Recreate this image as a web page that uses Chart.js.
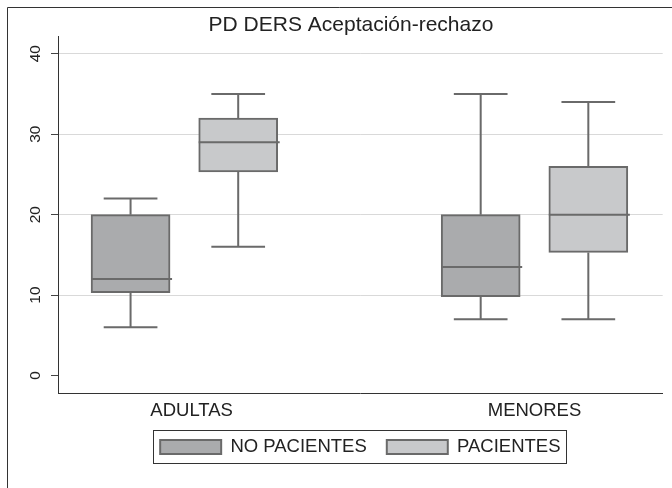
<!DOCTYPE html>
<html>
<head>
<meta charset="utf-8">
<script src="https://cdn.jsdelivr.net/npm/chart.js@4.4.1/dist/chart.umd.min.js"></script>
<style>
  body { margin: 0; background: #fff; }
</style>
</head>
<body>
<canvas id="boxChart" width="672" height="488"></canvas>
<script>
const chartTitle = 'PD DERS Aceptación-rechazo';
const groups = ['ADULTAS', 'MENORES'];
const seriesNames = ['NO PACIENTES', 'PACIENTES'];

// box plot stats per group (ADULTAS, MENORES)
const noPacMin = [6, 7];
const noPacQ1 = [10.3, 9.8];
const noPacMed = [12, 13.5];
const noPacQ3 = [20, 20];
const noPacMax = [22, 35];

const pacMin = [16, 7];
const pacQ1 = [25.3, 15.3];
const pacMed = [29, 20];
const pacQ3 = [32, 26];
const pacMax = [35, 34];

const yTicks = [0, 10, 20, 30, 40];

// layout on a 0..100 horizontal axis
const groupPos = [20.9, 78.8];
const boxOffset = 8.9;
const labelPos = [22.1, 78.8];

const textColor = '#222';
const lineGray = '#6a6a6a';
const fontFamily = '"Liberation Sans", Arial, Helvetica, sans-serif';

function makeSeries(name, sign, q1, q3, lo, med, hi, fill) {
  return {
    label: name,
    data: groups.map((g, i) => ({ x: groupPos[i] + sign * boxOffset, y: [q1[i], q3[i]] })),
    whiskerLow: lo,
    whiskerHigh: hi,
    median: med,
    backgroundColor: fill,
    borderColor: lineGray,
    borderWidth: 2,
    borderSkipped: false,
    grouped: false,
    barThickness: 79
  };
}

const boxExtras = {
  id: 'boxExtras',
  afterDatasetsDraw(chart) {
    const ctx = chart.ctx;
    const yScale = chart.scales.y;
    ctx.save();
    ctx.strokeStyle = lineGray;
    ctx.lineWidth = 2;
    chart.data.datasets.forEach((ds, di) => {
      const meta = chart.getDatasetMeta(di);
      meta.data.forEach((bar, i) => {
        const half = bar.width / 2;
        const cap = half * 0.68;
        const q1 = ds.data[i].y[0], q3 = ds.data[i].y[1];
        const pLo = yScale.getPixelForValue(ds.whiskerLow[i]);
        const pHi = yScale.getPixelForValue(ds.whiskerHigh[i]);
        const pQ1 = yScale.getPixelForValue(q1);
        const pQ3 = yScale.getPixelForValue(q3);
        const pMed = yScale.getPixelForValue(ds.median[i]);
        ctx.beginPath();
        // upper whisker
        ctx.moveTo(bar.x, pQ3); ctx.lineTo(bar.x, pHi);
        ctx.moveTo(bar.x - cap, pHi); ctx.lineTo(bar.x + cap, pHi);
        // lower whisker
        ctx.moveTo(bar.x, pQ1); ctx.lineTo(bar.x, pLo);
        ctx.moveTo(bar.x - cap, pLo); ctx.lineTo(bar.x + cap, pLo);
        // median
        ctx.moveTo(bar.x - half, pMed); ctx.lineTo(bar.x + half + 2, pMed);
        ctx.stroke();
      });
    });
    ctx.restore();
  },
  afterDraw(chart) {
    const ctx = chart.ctx;
    ctx.save();
    // outer frame (left & top visible)
    ctx.strokeStyle = '#333';
    ctx.lineWidth = 1;
    ctx.beginPath();
    ctx.moveTo(7.5, chart.height);
    ctx.lineTo(7.5, 7.5);
    ctx.lineTo(chart.width, 7.5);
    ctx.stroke();
    // title
    ctx.fillStyle = textColor;
    ctx.font = '21px ' + fontFamily;
    ctx.textAlign = 'center';
    ctx.textBaseline = 'middle';
    ctx.fillText(chartTitle, 351, 25.5);
    // legend border
    const hb = chart.legend.legendHitBoxes;
    if (hb && hb.length) {
      const first = hb[0], last = hb[hb.length - 1];
      const left = first.left - 7;
      const right = last.left + last.width + 6;
      const top = first.top - 8;
      const bottom = first.top + first.height + 6;
      ctx.strokeStyle = '#333';
      ctx.strokeRect(Math.round(left) + 0.5, Math.round(top) + 0.5, Math.round(right - left), Math.round(bottom - top));
    }
    ctx.restore();
  }
};

new Chart(document.getElementById('boxChart'), {
  type: 'bar',
  data: {
    datasets: [
      makeSeries(seriesNames[0], -1, noPacQ1, noPacQ3, noPacMin, noPacMed, noPacMax, '#aaabad'),
      makeSeries(seriesNames[1], 1, pacQ1, pacQ3, pacMin, pacMed, pacMax, '#c8c9cb')
    ]
  },
  options: {
    responsive: false,
    animation: false,
    layout: { padding: { top: 36, left: 8, right: 9.3, bottom: 21.75 } },
    plugins: {
      title: { display: false },
      tooltip: { enabled: false },
      legend: {
        position: 'bottom',
        fullSize: false,
        labels: {
          boxWidth: 61,
          boxHeight: 14,
          padding: 20,
          color: textColor,
          font: { family: fontFamily, size: 18.5 }
        }
      }
    },
    scales: {
      x: {
        type: 'linear',
        min: 0,
        max: 100,
        offset: false,
        afterBuildTicks: (scale) => { scale.ticks = labelPos.map(v => ({ value: v })); },
        afterFit: (scale) => { scale.height = 24.5; },
        grid: { display: false, drawTicks: false, offset: false },
        border: { display: true, color: '#333', width: 1 },
        ticks: {
          autoSkip: false,
          maxRotation: 0,
          padding: 6.3,
          color: textColor,
          font: { family: fontFamily, size: 18.5 },
          callback: (value, index) => groups[index]
        }
      },
      y: {
        min: -2.2,
        max: 42.2,
        afterBuildTicks: (scale) => { scale.ticks = yTicks.map(v => ({ value: v })); },
        afterFit: (scale) => { scale.width = 50; },
        grid: {
          color: (c) => (c.tick && c.tick.value === 0 ? 'rgba(0,0,0,0)' : '#d9d9d9'),
          tickColor: '#444',
          tickLength: 7,
          lineWidth: 1
        },
        border: { display: true, color: '#333', width: 1 },
        ticks: {
          minRotation: 90,
          maxRotation: 90,
          crossAlign: 'center',
          padding: 6.4,
          color: textColor,
          font: { family: fontFamily, size: 15.5 }
        }
      }
    }
  },
  plugins: [boxExtras]
});
</script>
</body>
</html>
